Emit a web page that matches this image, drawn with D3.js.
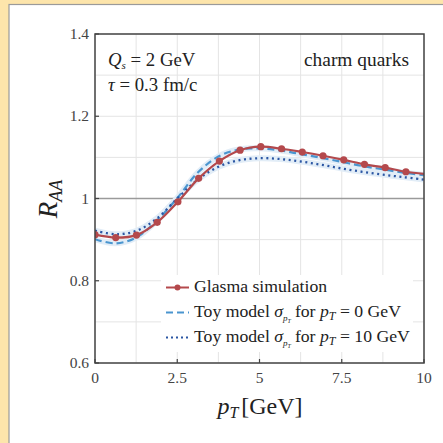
<!DOCTYPE html>
<meta charset="utf-8">
<html>
<head>
<script src="https://d3js.org/d3.v7.min.js"></script>
<style>
  body { margin: 0; background: #fde5ab; }
  svg text { font-family: "Liberation Serif", "DejaVu Serif", serif; }
</style>
</head>
<body>
<svg width="443" height="443"></svg>
<script>
// glasma simulation points
var simX = [0, 0.63, 1.26, 1.89, 2.52, 3.15, 3.78, 4.41, 5.04, 5.67, 6.30, 6.93, 7.56, 8.19, 8.82, 9.45, 10];
var simY = [0.912, 0.905, 0.911, 0.942, 0.992, 1.049, 1.091, 1.1175, 1.126, 1.121, 1.113, 1.104, 1.094, 1.083, 1.075, 1.065, 1.06];
var simMarked = 16; // last point is the line end only

// toy model curves
var toyX = [0, 0.625, 1.25, 1.875, 2.5, 3.125, 3.75, 4.375, 5, 5.625, 6.25, 6.875, 7.5, 8.125, 8.75, 9.375, 10];
var toy0 = [0.901, 0.891, 0.905, 0.946, 1.001, 1.063, 1.102, 1.119, 1.122, 1.117, 1.108, 1.099, 1.089, 1.079, 1.071, 1.063, 1.057];
var toy10 = [0.922, 0.913, 0.921, 0.951, 1.0, 1.046, 1.077, 1.093, 1.098, 1.096, 1.09, 1.082, 1.073, 1.065, 1.058, 1.052, 1.046];

var xTicks = [0, 2.5, 5, 7.5, 10];
var xTickLabels = ["0", "2.5", "5", "7.5", "10"];
var yTicks = [0.6, 0.8, 1.0, 1.2, 1.4];
var yTickLabels = ["0.6", "0.8", "1", "1.2", "1.4"];

var red = "#b4494c", lightBlue = "#4a95cf", darkBlue = "#2b56a3", band = "#e2edf7";

var svg = d3.select("svg");

// white panel
svg.append("rect").attr("x", 9).attr("y", 4.5).attr("width", 440).attr("height", 445)
    .attr("fill", "white").attr("stroke", "#9a9a9a").attr("stroke-width", 1.2);

var pLeft = 95, pRight = 424, pTop = 34, pBottom = 363;
var x = d3.scaleLinear().domain([0, 10]).range([pLeft, pRight]);
var y = d3.scaleLinear().domain([0.6, 1.4]).range([pBottom, pTop]);

svg.append("clipPath").attr("id", "clip").append("rect")
    .attr("x", pLeft).attr("y", pTop).attr("width", pRight - pLeft).attr("height", pBottom - pTop);

// grid
var g = svg.append("g");
g.selectAll(".gx").data(d3.range(0, 10.01, 1.25)).enter().append("line")
    .attr("x1", d => x(d)).attr("x2", d => x(d)).attr("y1", pTop).attr("y2", pBottom)
    .attr("stroke", "#e4e4e4").attr("stroke-width", 1);
g.selectAll(".gy").data(d3.range(0.6, 1.401, 0.1)).enter().append("line")
    .attr("y1", d => y(d)).attr("y2", d => y(d)).attr("x1", pLeft).attr("x2", pRight)
    .attr("stroke", "#e4e4e4").attr("stroke-width", 1);
g.append("line").attr("x1", pLeft).attr("x2", pRight).attr("y1", y(1)).attr("y2", y(1))
    .attr("stroke", "#9a9a9a").attr("stroke-width", 1.5);

var plot = svg.append("g").attr("clip-path", "url(#clip)");
var line = d3.line().x(d => x(d[0])).y(d => y(d[1])).curve(d3.curveCatmullRom);

var t0 = toyX.map((v, i) => [v, toy0[i]]);
var t10 = toyX.map((v, i) => [v, toy10[i]]);
var sim = simX.map((v, i) => [v, simY[i]]);

// error bands
plot.append("path").attr("d", line(t0)).attr("fill", "none").attr("stroke", band).attr("stroke-width", 6);
plot.append("path").attr("d", line(t10)).attr("fill", "none").attr("stroke", band).attr("stroke-width", 6);

plot.append("path").attr("d", line(t0)).attr("fill", "none").attr("stroke", lightBlue)
    .attr("stroke-width", 2.2).attr("stroke-dasharray", "7,4");
plot.append("path").attr("d", line(t10)).attr("fill", "none").attr("stroke", darkBlue)
    .attr("stroke-width", 2.3).attr("stroke-dasharray", "2,3.6");

plot.append("path").attr("d", line(sim)).attr("fill", "none").attr("stroke", red).attr("stroke-width", 2.2);
plot.selectAll(".m").data(sim.slice(0, simMarked)).enter().append("circle")
    .attr("cx", d => x(d[0])).attr("cy", d => y(d[1])).attr("r", 3.6).attr("fill", red);

// legend
var lg = svg.append("g");
lg.append("rect").attr("x", 161).attr("y", 275).attr("width", 252).attr("height", 77).attr("fill", "white");
var rows = [292, 317, 342];
lg.append("line").attr("x1", 166).attr("x2", 189).attr("y1", rows[0] - 4.5).attr("y2", rows[0] - 4.5)
    .attr("stroke", red).attr("stroke-width", 2);
lg.append("circle").attr("cx", 177.5).attr("cy", rows[0] - 4.5).attr("r", 3).attr("fill", red);
lg.append("line").attr("x1", 166).attr("x2", 189).attr("y1", rows[1] - 4.5).attr("y2", rows[1] - 4.5)
    .attr("stroke", lightBlue).attr("stroke-width", 2).attr("stroke-dasharray", "7,4");
lg.append("line").attr("x1", 166).attr("x2", 189).attr("y1", rows[2] - 4.5).attr("y2", rows[2] - 4.5)
    .attr("stroke", darkBlue).attr("stroke-width", 2).attr("stroke-dasharray", "2,3");

var fs = 17.7;
lg.append("text").attr("x", 194).attr("y", rows[0]).attr("font-size", fs).attr("fill", "#222")
    .text("Glasma simulation");
function toyLabel(yy, val) {
    var t = lg.append("text").attr("x", 194).attr("y", yy).attr("font-size", fs).attr("fill", "#222");
    t.append("tspan").text("Toy model ");
    t.append("tspan").attr("font-style", "italic").text("σ");
    t.append("tspan").attr("font-style", "italic").attr("font-size", 9).attr("dy", 4).text("p");
    t.append("tspan").attr("font-style", "italic").attr("font-size", 6).attr("dy", 1.5).text("T");
    t.append("tspan").attr("dy", -5.5).attr("dx", 4).text("for ");
    t.append("tspan").attr("font-style", "italic").text("p");
    t.append("tspan").attr("font-style", "italic").attr("font-size", 12).attr("dy", 3).text("T");
    t.append("tspan").attr("dy", -3).text(" = " + val + " GeV");
}
toyLabel(rows[1], "0");
toyLabel(rows[2], "10");

// annotations
var fa = 18.8;
var a1 = svg.append("text").attr("x", 108).attr("y", 66).attr("font-size", fa).attr("fill", "#222");
a1.append("tspan").attr("font-style", "italic").text("Q");
a1.append("tspan").attr("font-style", "italic").attr("font-size", 11).attr("dy", 3).text("s");
a1.append("tspan").attr("dy", -3).text(" = 2 GeV");
var a2 = svg.append("text").attr("x", 108).attr("y", 91).attr("font-size", fa).attr("fill", "#222");
a2.append("tspan").attr("font-style", "italic").text("τ");
a2.append("tspan").text(" = 0.3 fm/c");
svg.append("text").attr("x", 409).attr("y", 66).attr("font-size", fa + 0.6).attr("fill", "#222")
    .attr("text-anchor", "end").text("charm quarks");

// frame + ticks
svg.append("rect").attr("x", pLeft).attr("y", pTop).attr("width", pRight - pLeft).attr("height", pBottom - pTop)
    .attr("fill", "none").attr("stroke", "#444").attr("stroke-width", 1.5);
svg.selectAll(".xt").data(xTicks).enter().append("line")
    .attr("x1", d => x(d)).attr("x2", d => x(d)).attr("y1", pBottom).attr("y2", pBottom - 4)
    .attr("stroke", "#444").attr("stroke-width", 1.2);
svg.selectAll(".yt").data(yTicks).enter().append("line")
    .attr("y1", d => y(d)).attr("y2", d => y(d)).attr("x1", pLeft).attr("x2", pLeft + 4)
    .attr("stroke", "#444").attr("stroke-width", 1.2);
svg.selectAll(".xl").data(xTicks).enter().append("text")
    .attr("x", d => x(d)).attr("y", 383).attr("text-anchor", "middle").attr("font-size", 15.5)
    .attr("fill", "#444").text((d, i) => xTickLabels[i]);
svg.selectAll(".yl").data(yTicks).enter().append("text")
    .attr("x", 89).attr("y", d => y(d) + 5).attr("text-anchor", "end").attr("font-size", 15.5)
    .attr("fill", "#444").text((d, i) => yTickLabels[i]);

// axis titles
var xl = svg.append("text").attr("x", 260).attr("y", 414).attr("text-anchor", "middle")
    .attr("font-size", 24).attr("fill", "#222");
xl.append("tspan").attr("font-style", "italic").text("p");
xl.append("tspan").attr("font-style", "italic").attr("font-size", 16).attr("dy", 4).text("T");
xl.append("tspan").attr("dy", -4).attr("dx", 3).text("[GeV]");

var yl = svg.append("text").attr("transform", "translate(57,199) rotate(-90)").attr("text-anchor", "middle")
    .attr("font-size", 27).attr("fill", "#222");
yl.append("tspan").attr("font-style", "italic").text("R");
yl.append("tspan").attr("font-style", "italic").attr("font-size", 18).attr("dy", 5).text("AA");
</script>
</body>
</html>
